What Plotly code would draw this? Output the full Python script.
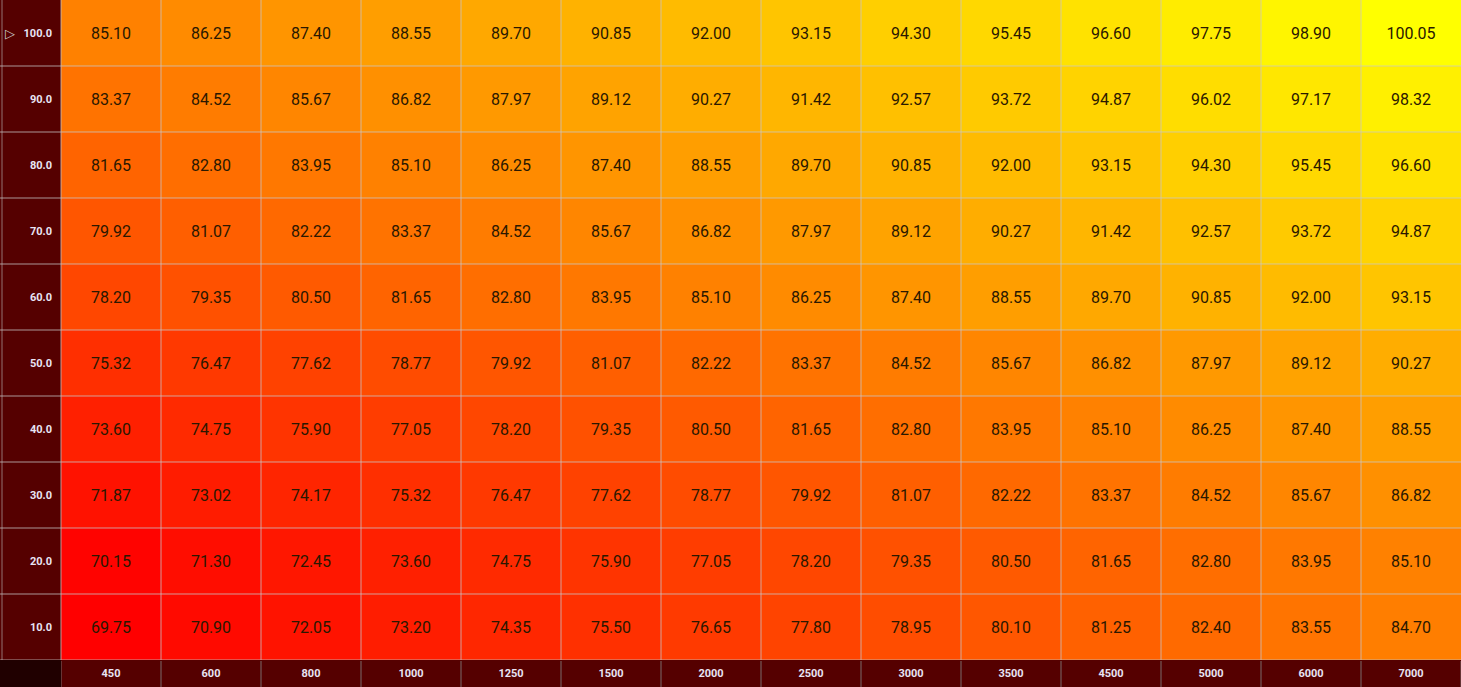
import plotly.graph_objects as go

col_labels = ["450", "600", "800", "1000", "1250", "1500", "2000", "2500",
              "3000", "3500", "4500", "5000", "6000", "7000"]
row_labels = ["10.0", "20.0", "30.0", "40.0", "50.0", "60.0", "70.0", "80.0", "90.0", "100.0"]

row_10 = [69.75, 70.90, 72.05, 73.20, 74.35, 75.50, 76.65, 77.80, 78.95, 80.10, 81.25, 82.40, 83.55, 84.70]
row_20 = [70.15, 71.30, 72.45, 73.60, 74.75, 75.90, 77.05, 78.20, 79.35, 80.50, 81.65, 82.80, 83.95, 85.10]
row_30 = [71.87, 73.02, 74.17, 75.32, 76.47, 77.62, 78.77, 79.92, 81.07, 82.22, 83.37, 84.52, 85.67, 86.82]
row_40 = [73.60, 74.75, 75.90, 77.05, 78.20, 79.35, 80.50, 81.65, 82.80, 83.95, 85.10, 86.25, 87.40, 88.55]
row_50 = [75.32, 76.47, 77.62, 78.77, 79.92, 81.07, 82.22, 83.37, 84.52, 85.67, 86.82, 87.97, 89.12, 90.27]
row_60 = [78.20, 79.35, 80.50, 81.65, 82.80, 83.95, 85.10, 86.25, 87.40, 88.55, 89.70, 90.85, 92.00, 93.15]
row_70 = [79.92, 81.07, 82.22, 83.37, 84.52, 85.67, 86.82, 87.97, 89.12, 90.27, 91.42, 92.57, 93.72, 94.87]
row_80 = [81.65, 82.80, 83.95, 85.10, 86.25, 87.40, 88.55, 89.70, 90.85, 92.00, 93.15, 94.30, 95.45, 96.60]
row_90 = [83.37, 84.52, 85.67, 86.82, 87.97, 89.12, 90.27, 91.42, 92.57, 93.72, 94.87, 96.02, 97.17, 98.32]
row_100 = [85.10, 86.25, 87.40, 88.55, 89.70, 90.85, 92.00, 93.15, 94.30, 95.45, 96.60, 97.75, 98.90, 100.05]

z = [row_10, row_20, row_30, row_40, row_50, row_60, row_70, row_80, row_90, row_100]

W, H = 1461, 687
xd0 = 61 / W
yd0 = 27 / H
ncols = len(col_labels)
nrows = len(row_labels)

fig = go.Figure(go.Heatmap(
    z=z, x=col_labels, y=row_labels,
    colorscale=[[0, "#ff0000"], [1, "#ffff00"]],
    zmin=min(min(r) for r in z), zmax=max(max(r) for r in z),
    showscale=False,
    texttemplate="%{z:.2f}",
    textfont=dict(family="Roboto", size=16, color="#2a1800"),
    hoverinfo="skip",
))

shapes = []
grid = "rgba(200,200,200,0.75)"
# corner
shapes.append(dict(type="rect", xref="paper", yref="paper", x0=0, x1=xd0, y0=0, y1=yd0,
                   fillcolor="#200000", line=dict(width=0), layer="below"))
# grid lines over cells
for k in range(1, ncols):
    shapes.append(dict(type="line", xref="x", yref="paper", x0=k - 0.5, x1=k - 0.5, y0=yd0, y1=1,
                       line=dict(color=grid, width=1)))
for k in range(1, nrows):
    shapes.append(dict(type="line", xref="paper", yref="y", x0=0, x1=1, y0=k - 0.5, y1=k - 0.5,
                       line=dict(color=grid, width=1)))
# line at bottom of cells
shapes.append(dict(type="line", xref="paper", yref="y", x0=0, x1=1, y0=-0.5, y1=-0.5,
                   line=dict(color="rgba(190,190,190,0.8)", width=1)))
# header column left border and separator
shapes.append(dict(type="line", xref="paper", yref="paper", x0=2 / W, x1=2 / W, y0=yd0, y1=1,
                   line=dict(color="rgba(190,190,190,0.6)", width=1)))
shapes.append(dict(type="line", xref="paper", yref="paper", x0=xd0, x1=xd0, y0=yd0, y1=1,
                   line=dict(color="rgba(190,190,190,0.8)", width=1)))
# bottom header separators
for k in range(0, ncols + 1):
    shapes.append(dict(type="line", xref="x", yref="paper", x0=k - 0.5, x1=k - 0.5, y0=0, y1=yd0 - 1 / H,
                       line=dict(color="#7a6a6a", width=1)))

fig.update_layout(
    width=W, height=H,
    margin=dict(l=0, r=0, t=0, b=0),
    paper_bgcolor="#550000",
    plot_bgcolor="#550000",
    shapes=shapes,
    xaxis=dict(type="category", domain=[xd0, 1], range=[-0.5, ncols - 0.5],
               showgrid=False, zeroline=False, ticks="",
               tickfont=dict(family="Roboto", size=11, color="#e8e4f4", weight="bold"),
               ticklabelstandoff=5, fixedrange=True),
    yaxis=dict(type="category", domain=[yd0, 1], range=[-0.5, nrows - 0.5],
               showgrid=False, zeroline=False, ticks="",
               tickfont=dict(family="Roboto", size=11, color="#e8e4f4", weight="bold"),
               ticklabelstandoff=8, fixedrange=True),
    annotations=[dict(text="▷", xref="paper", yref="y", x=3 / W, y=nrows - 1,
                      xanchor="left", yanchor="middle", showarrow=False,
                      font=dict(family="DejaVu Sans", size=13, color="#c8c8c8"))],
)

fig.write_html("out.html", config={"displayModeBar": False},
               post_script="document.body.style.margin='0';")
